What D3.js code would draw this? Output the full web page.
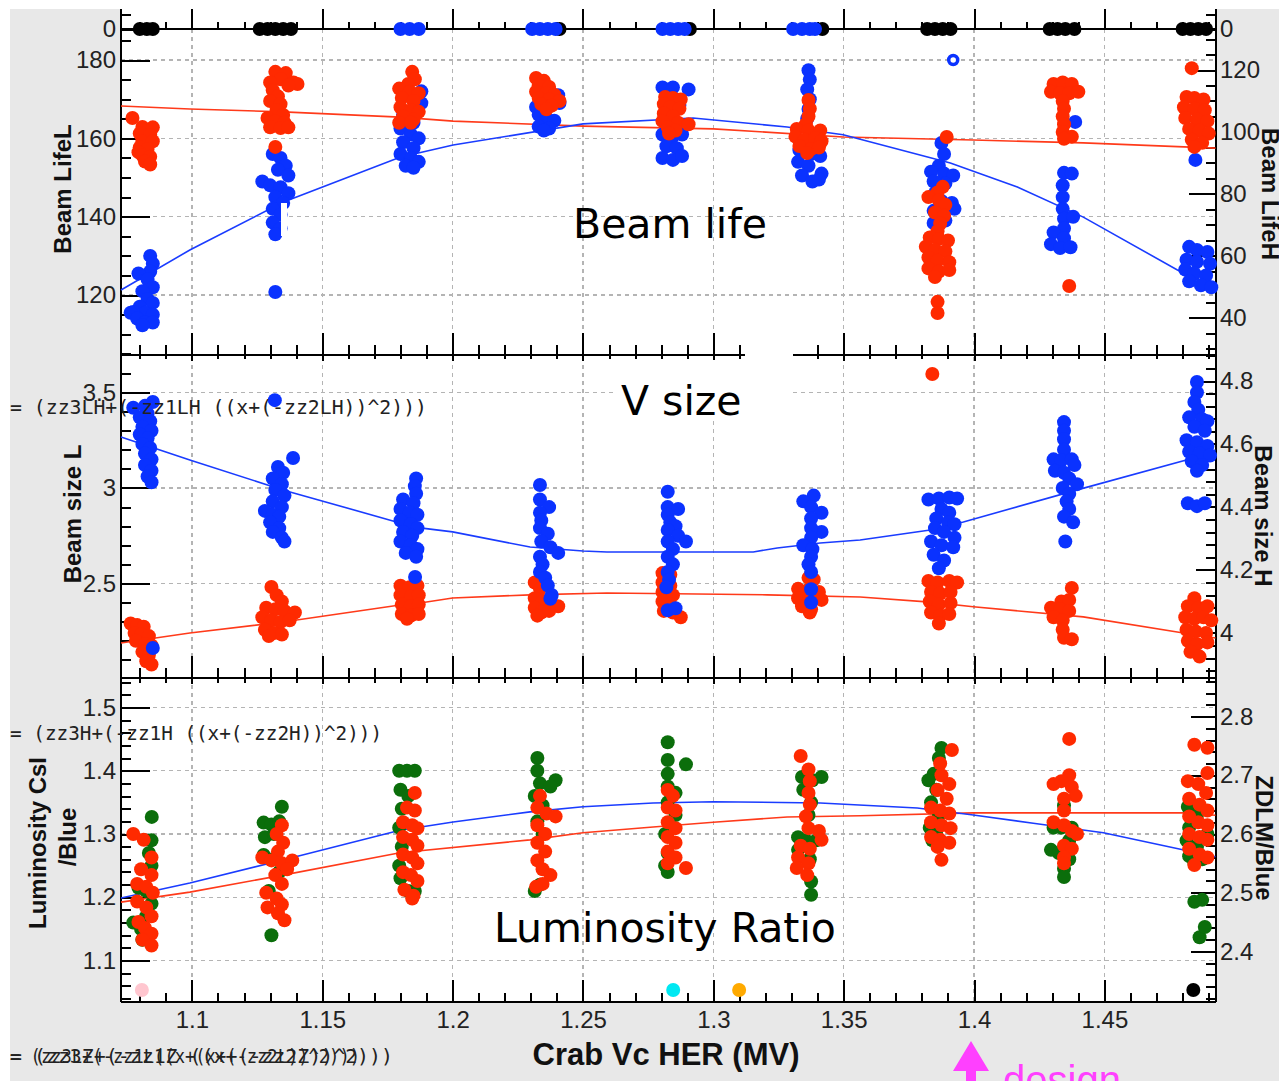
<!DOCTYPE html>
<html>
<head>
<meta charset="utf-8">
<title>Crab Vc HER scan</title>
<script src="https://d3js.org/d3.v7.min.js"></script>
<style>
  body { margin: 0; background: #fff; }
  text { font-family: "Liberation Sans", Arial, sans-serif; }
  .tick text { font-size: 24px; fill: #222; font-family: "Liberation Sans", Arial, sans-serif; }
  .tick line { stroke: #000; stroke-width: 2px; shape-rendering: crispEdges; }
  .grid { stroke: #b4b4b4; stroke-width: 1.5px; stroke-dasharray: 4,4; shape-rendering: crispEdges; }
  .frame { stroke: #000; stroke-width: 2px; shape-rendering: crispEdges; }
  .title { font-weight: bold; font-size: 24px; fill: #111; }
  .formula { font-family: "DejaVu Sans Mono", monospace; font-size: 19px; fill: #222; }
  .note { font-family: "DejaVu Sans", sans-serif; font-size: 41px; fill: #000; }
</style>
</head>
<body>
<div id="chart"></div>
<script>
// ---- values ----
var xTicks = [1.1, 1.15, 1.2, 1.25, 1.3, 1.35, 1.4, 1.45];
var lifeLTicks = [120, 140, 160, 180];
var lifeHTicks = [40, 60, 80, 100, 120];
var sizeLTicks = [2.5, 3, 3.5];
var sizeHTicks = [4, 4.2, 4.4, 4.6, 4.8];
var lumLTicks = [1.1, 1.2, 1.3, 1.4, 1.5];
var lumRTicks = [2.4, 2.5, 2.6, 2.7, 2.8];

// status row (all at 0)
var statusBlack = [1.080, 1.0827, 1.085, 1.126, 1.129, 1.132, 1.135, 1.138, 1.241, 1.291, 1.3418,
  1.382, 1.385, 1.388, 1.391, 1.429, 1.432, 1.435, 1.4385, 1.480, 1.483, 1.486, 1.489];
var statusBlue = [1.180, 1.1835, 1.187, 1.2305, 1.2335, 1.2365, 1.2395, 1.2805, 1.2835, 1.2865, 1.289,
  1.3306, 1.334, 1.337, 1.339];

// Beam LifeL (blue, left axis)
var lifeL = [
  [1.084,130],[1.085,128],[1.084,126],[1.0795,125.5],[1.083,124],[1.085,122],[1.081,121],[1.083,119],[1.085,118],[1.080,117],[1.082,115.5],[1.085,115],[1.0775,115.7],[1.0765,115.5],[1.079,114],[1.082,113],[1.085,113],[1.081,112.3],
  [1.131,156],[1.134,155],[1.136,153],[1.133,152],[1.137,150.5],[1.127,149],[1.130,148],[1.134,147.5],[1.137,146],[1.132,145],[1.135,143.5],[1.131,142],[1.134,140.5],[1.131,138.5],[1.134,137],[1.132,135.5],[1.132,120.8],
  [1.188,172],[1.188,169],[1.181,166],[1.185,164],[1.180,162.5],[1.184,161],[1.187,160],[1.181,159],[1.185,157.5],[1.180,156],[1.184,155],[1.187,154],[1.182,153],[1.185,152.5],
  [1.2405,171],[1.241,169],[1.232,168],[1.233,166],[1.236,165],[1.239,164.5],[1.233,163],[1.237,162.5],[1.235,162],
  [1.2805,173],[1.2845,173],[1.2905,172.5],[1.282,170],[1.287,168.5],[1.2805,161],[1.2845,160.5],[1.288,161],[1.282,158],[1.286,157.5],[1.2805,155],[1.2845,154.5],[1.288,155.5],
  [1.3365,177.4],[1.337,175],[1.336,172.5],[1.337,170],[1.3365,167.5],[1.336,165],[1.333,157],[1.3375,156],[1.341,155.5],[1.3325,154],[1.3365,153],[1.3415,151],[1.334,150.5],[1.338,149],[1.3405,149.5],
  [1.3875,158.8],[1.3885,156],[1.3865,153],[1.3835,151.5],[1.3885,151],[1.392,150.5],[1.3845,149],[1.389,148.5],[1.385,146],[1.3875,144],[1.3915,143.5],[1.3925,142],[1.3845,141.5],[1.388,140],[1.3845,138.4],[1.389,139],
  [1.4345,151.2],[1.4375,151],[1.434,148],[1.434,145],[1.434,142],[1.4345,139.5],[1.438,140],[1.4345,137],[1.4305,136],[1.4345,134.5],[1.4295,133],[1.433,132],[1.437,132.2],[1.4388,164.2],
  [1.4825,132.3],[1.4855,131.5],[1.4895,131],[1.4815,129],[1.4855,128.5],[1.4905,128],[1.481,126.5],[1.4845,125.5],[1.489,125],[1.4825,123.5],[1.487,122.5],[1.491,122],[1.4849,154.5]
];
var lifeLRing = [[1.392, 180]];

// Beam LifeH (red, right axis)
var lifeH = [
  [1.0772,104.5],[1.081,101.6],[1.085,101.5],[1.080,99.5],[1.084,99],[1.081,97],[1.085,97],[1.080,95],[1.083,94.5],[1.0795,93.5],[1.081,92.5],[1.084,92],[1.082,90.5],[1.084,89.5],
  [1.132,119.4],[1.136,119],[1.134,117],[1.130,116],[1.139,116],[1.1405,115.5],[1.137,115],[1.131,113.5],[1.133,111.5],[1.130,110],[1.134,109],[1.1325,107],[1.135,105.5],[1.129,104.5],[1.132,103.5],[1.1355,103],[1.130,101.5],[1.134,101.3],[1.137,101.5],[1.132,95.2],
  [1.1845,119.4],[1.1855,117],[1.183,115.5],[1.1795,114],[1.1835,113],[1.187,112.5],[1.1805,111],[1.185,110],[1.180,108],[1.184,107],[1.187,106.5],[1.181,105],[1.185,104],[1.1795,103],[1.184,103],
  [1.232,117.4],[1.235,116.5],[1.233,115],[1.237,114.5],[1.232,113],[1.236,112.5],[1.239,112],[1.233,111],[1.237,110.5],[1.241,110],[1.234,109],[1.238,108.5],[1.236,107.3],
  [1.2815,111.3],[1.2845,111],[1.2875,110.5],[1.281,109],[1.2835,108],[1.287,107.5],[1.281,106],[1.2845,105],[1.2805,103.5],[1.2865,103],[1.2905,102.5],[1.2825,101.5],[1.2855,100.5],[1.283,99.5],
  [1.3365,110.3],[1.337,107.5],[1.3365,105],[1.3355,102.5],[1.332,101],[1.3365,100.5],[1.341,100.5],[1.3315,98.5],[1.335,97.5],[1.339,98],[1.3415,97],[1.333,95.5],[1.3375,94.5],[1.3405,95],[1.336,93.2],
  [1.3895,98.4],[1.388,82.3],[1.386,80.5],[1.3825,79],[1.3865,78],[1.389,76.5],[1.385,74],[1.3885,73],[1.387,70.5],[1.386,68],[1.383,66],[1.3865,65.5],[1.390,65],[1.3815,63],[1.385,62],[1.389,61.5],[1.3825,59.5],[1.386,58.5],[1.3905,58],[1.3825,56],[1.3865,55],[1.3905,55.5],[1.385,53.2],[1.386,45.2],[1.386,41.6],
  [1.4305,115.5],[1.434,116],[1.4375,115.5],[1.4295,113],[1.433,112.5],[1.4365,112.5],[1.44,113],[1.434,110],[1.4345,107.5],[1.434,105],[1.4345,102.5],[1.434,100],[1.4375,98.5],[1.4345,97.8],[1.4365,50.3],
  [1.4835,120.6],[1.4815,111.3],[1.4845,111],[1.488,110.5],[1.4805,108],[1.4845,107.5],[1.4885,107],[1.481,104.5],[1.4855,104],[1.4895,103.5],[1.4825,101],[1.4865,100.5],[1.49,99.5],[1.4835,97.5],[1.4875,96.5],[1.4845,95.2]
];

// Beam size L (blue, left axis)
var sizeL = [
  [1.0775,3.42],[1.085,3.45],[1.082,3.43],[1.083,3.39],[1.080,3.37],[1.084,3.35],[1.081,3.32],[1.0845,3.30],[1.080,3.28],[1.083,3.26],[1.081,3.23],[1.084,3.21],[1.082,3.18],[1.0845,3.15],[1.082,3.12],[1.0845,3.09],[1.083,3.06],[1.0845,3.03],[1.085,2.162],
  [1.1318,3.46],[1.1388,3.157],[1.133,3.11],[1.135,3.08],[1.131,3.05],[1.1345,3.02],[1.132,2.99],[1.1355,2.96],[1.131,2.93],[1.1345,2.90],[1.128,2.88],[1.131,2.86],[1.1335,2.85],[1.130,2.82],[1.1335,2.79],[1.131,2.77],[1.1345,2.74],[1.1355,2.72],
  [1.186,3.05],[1.1855,3.01],[1.186,2.97],[1.181,2.94],[1.185,2.92],[1.180,2.89],[1.1835,2.87],[1.1865,2.86],[1.180,2.83],[1.184,2.81],[1.1865,2.79],[1.181,2.77],[1.1845,2.75],[1.180,2.72],[1.184,2.70],[1.1865,2.68],[1.182,2.66],[1.186,2.64],[1.1856,2.534],
  [1.2335,3.016],[1.2335,2.94],[1.237,2.90],[1.2335,2.87],[1.234,2.83],[1.2335,2.79],[1.2365,2.76],[1.234,2.72],[1.2375,2.69],[1.2405,2.66],[1.2335,2.64],[1.2345,2.60],[1.2335,2.56],[1.2355,2.53],[1.2365,2.49],[1.238,2.44],[1.2375,2.42],
  [1.2825,2.98],[1.2825,2.90],[1.2865,2.89],[1.2825,2.86],[1.2835,2.82],[1.2855,2.80],[1.2825,2.78],[1.2865,2.75],[1.2895,2.72],[1.2825,2.72],[1.2845,2.68],[1.2825,2.64],[1.2845,2.60],[1.2825,2.56],[1.283,2.52],[1.282,2.48],[1.2825,2.36],[1.2855,2.37],
  [1.3385,2.96],[1.3345,2.93],[1.3375,2.90],[1.3415,2.87],[1.3375,2.84],[1.3415,2.77],[1.3375,2.79],[1.3375,2.74],[1.3345,2.70],[1.338,2.68],[1.3375,2.64],[1.3365,2.60],[1.3375,2.56],[1.3375,2.47],[1.3375,2.40],
  [1.3825,2.94],[1.3865,2.945],[1.3905,2.95],[1.3935,2.945],[1.3875,2.89],[1.3905,2.87],[1.3855,2.84],[1.390,2.82],[1.3925,2.81],[1.385,2.79],[1.3885,2.77],[1.3925,2.74],[1.3835,2.72],[1.3875,2.70],[1.392,2.69],[1.3845,2.65],[1.3885,2.62],[1.3865,2.58],
  [1.4345,3.345],[1.4345,3.30],[1.4345,3.255],[1.4345,3.20],[1.4305,3.15],[1.4335,3.145],[1.4375,3.15],[1.4385,3.12],[1.431,3.09],[1.4345,3.08],[1.4365,3.05],[1.4395,3.02],[1.434,3.00],[1.4365,2.97],[1.4355,2.93],[1.4365,2.89],[1.4345,2.85],[1.438,2.82],[1.435,2.72],
  [1.4855,3.555],[1.4855,3.50],[1.4845,3.45],[1.486,3.41],[1.4825,3.37],[1.4875,3.36],[1.4895,3.35],[1.4845,3.32],[1.4885,3.30],[1.4815,3.25],[1.4855,3.24],[1.4895,3.22],[1.4825,3.19],[1.4865,3.18],[1.4905,3.17],[1.4835,3.14],[1.4875,3.12],[1.4855,3.09],[1.482,2.92],[1.4855,2.905],[1.4885,2.92]
];

// Beam size H (red, right axis)
var sizeH = [
  [1.0765,4.03],[1.079,4.025],[1.0815,4.02],[1.078,4.00],[1.0805,3.995],[1.0835,3.99],[1.0785,3.975],[1.082,3.965],[1.0845,3.96],[1.081,3.94],[1.0835,3.93],[1.0825,3.91],[1.0845,3.90],
  [1.1305,4.146],[1.1325,4.12],[1.1345,4.10],[1.1285,4.08],[1.132,4.075],[1.1355,4.07],[1.1395,4.065],[1.127,4.05],[1.1305,4.04],[1.134,4.035],[1.1375,4.04],[1.128,4.01],[1.1315,4.00],[1.1345,3.995],[1.1295,3.99],
  [1.180,4.15],[1.1835,4.145],[1.1865,4.15],[1.180,4.12],[1.184,4.115],[1.187,4.12],[1.1805,4.09],[1.184,4.085],[1.187,4.09],[1.1805,4.06],[1.184,4.055],[1.187,4.06],[1.1825,4.045],
  [1.2315,4.16],[1.2335,4.14],[1.2315,4.11],[1.2345,4.10],[1.2375,4.09],[1.2405,4.085],[1.2315,4.08],[1.234,4.065],[1.237,4.07],[1.2325,4.055],
  [1.2805,4.19],[1.2835,4.185],[1.2805,4.16],[1.2835,4.15],[1.2805,4.13],[1.2845,4.12],[1.2805,4.10],[1.2835,4.09],[1.281,4.07],[1.2845,4.065],[1.2875,4.05],
  [1.3365,4.175],[1.3385,4.17],[1.3325,4.14],[1.336,4.135],[1.3405,4.13],[1.3325,4.11],[1.3365,4.10],[1.3415,4.105],[1.334,4.085],[1.3375,4.075],[1.337,4.065],
  [1.384,4.822],[1.3825,4.165],[1.386,4.16],[1.3905,4.165],[1.3935,4.16],[1.3835,4.13],[1.387,4.125],[1.391,4.13],[1.383,4.10],[1.3865,4.09],[1.391,4.095],[1.3835,4.065],[1.387,4.055],[1.3905,4.06],[1.3865,4.03],
  [1.4375,4.143],[1.4335,4.10],[1.4365,4.105],[1.4295,4.08],[1.433,4.075],[1.4365,4.07],[1.4305,4.05],[1.434,4.04],[1.434,4.01],[1.4345,3.985],[1.4375,3.98],
  [1.4845,4.11],[1.482,4.085],[1.486,4.08],[1.4895,4.085],[1.481,4.05],[1.4845,4.045],[1.488,4.05],[1.491,4.04],[1.4815,4.01],[1.485,4.005],[1.489,4.00],[1.482,3.975],[1.4855,3.965],[1.4895,3.97],[1.483,3.94],[1.4865,3.925]
];

// Luminosity CsI/Blue (green, left axis)
var lumCsI = [
  [1.0846,1.327],[1.0845,1.29],[1.0835,1.27],[1.0845,1.25],[1.0795,1.215],[1.0825,1.21],[1.0845,1.19],[1.0825,1.17],[1.0775,1.16],[1.0805,1.15],[1.0835,1.14],[1.081,1.133],
  [1.1345,1.343],[1.1275,1.318],[1.1305,1.315],[1.1335,1.32],[1.128,1.295],[1.1315,1.30],[1.1275,1.267],[1.131,1.26],[1.1335,1.24],[1.1295,1.21],[1.1305,1.14],
  [1.1795,1.40],[1.1825,1.40],[1.1855,1.40],[1.180,1.37],[1.183,1.36],[1.1805,1.34],[1.1795,1.31],[1.1805,1.28],[1.1795,1.25],[1.180,1.23],[1.183,1.21],[1.1855,1.21],
  [1.2325,1.42],[1.2325,1.40],[1.2335,1.38],[1.2395,1.385],[1.2375,1.375],[1.2315,1.36],[1.2345,1.345],[1.2325,1.32],[1.2345,1.30],[1.2315,1.21],[1.2335,1.22],
  [1.2825,1.445],[1.2825,1.417],[1.2895,1.41],[1.2825,1.395],[1.2825,1.375],[1.2855,1.365],[1.2825,1.35],[1.2855,1.33],[1.2815,1.30],[1.2825,1.27],[1.2815,1.25],[1.2825,1.24],
  [1.334,1.39],[1.338,1.385],[1.3415,1.39],[1.3345,1.37],[1.3375,1.35],[1.3365,1.33],[1.3325,1.295],[1.3355,1.29],[1.3395,1.29],[1.3325,1.275],[1.337,1.26],[1.3375,1.225],[1.3375,1.204],
  [1.3875,1.436],[1.3865,1.42],[1.3845,1.395],[1.3825,1.385],[1.3855,1.37],[1.3835,1.35],[1.3865,1.33],[1.383,1.31],[1.3855,1.30],[1.384,1.29],
  [1.4345,1.345],[1.4305,1.31],[1.4335,1.31],[1.4375,1.31],[1.4365,1.29],[1.4295,1.275],[1.4325,1.27],[1.4365,1.26],[1.4345,1.245],[1.4345,1.232],
  [1.482,1.343],[1.4855,1.33],[1.4825,1.31],[1.4895,1.30],[1.4815,1.29],[1.4855,1.28],[1.4825,1.265],[1.4875,1.26],[1.4845,1.254],[1.4875,1.196],[1.4845,1.193],[1.4865,1.137],[1.4885,1.153]
];

// ZDLM/Blue (red, right axis)
var lumZDLM = [
  [1.0775,2.60],[1.0815,2.59],[1.0845,2.56],[1.0805,2.54],[1.0845,2.53],[1.079,2.515],[1.0825,2.51],[1.085,2.50],[1.079,2.485],[1.0825,2.475],[1.0845,2.46],[1.0795,2.45],[1.082,2.44],[1.0845,2.43],[1.081,2.42],[1.0845,2.41],
  [1.1345,2.615],[1.1325,2.60],[1.135,2.585],[1.133,2.57],[1.127,2.56],[1.1305,2.555],[1.1345,2.55],[1.1385,2.555],[1.1365,2.54],[1.132,2.53],[1.1345,2.515],[1.1285,2.50],[1.1325,2.49],[1.1345,2.48],[1.129,2.475],[1.133,2.465],[1.1355,2.453],
  [1.1855,2.67],[1.1825,2.645],[1.1855,2.64],[1.181,2.62],[1.1845,2.615],[1.1865,2.61],[1.181,2.595],[1.1845,2.59],[1.1865,2.58],[1.181,2.565],[1.1845,2.56],[1.1865,2.55],[1.181,2.535],[1.184,2.53],[1.1865,2.52],[1.1815,2.505],[1.185,2.495],[1.1845,2.49],
  [1.2335,2.665],[1.2325,2.645],[1.236,2.635],[1.2395,2.63],[1.2325,2.615],[1.2355,2.60],[1.2325,2.585],[1.2355,2.57],[1.2325,2.555],[1.2345,2.54],[1.2375,2.53],[1.2345,2.515],[1.232,2.51],
  [1.2825,2.675],[1.2845,2.665],[1.2825,2.645],[1.2855,2.64],[1.2825,2.62],[1.2855,2.61],[1.2825,2.595],[1.2855,2.585],[1.2825,2.57],[1.2855,2.56],[1.2825,2.55],[1.2895,2.542],
  [1.3335,2.733],[1.3365,2.71],[1.337,2.69],[1.3365,2.67],[1.337,2.65],[1.3355,2.63],[1.3365,2.61],[1.3405,2.605],[1.3415,2.59],[1.3335,2.58],[1.337,2.575],[1.3325,2.56],[1.3365,2.55],[1.332,2.542],[1.336,2.53],
  [1.3915,2.743],[1.387,2.72],[1.3875,2.70],[1.3905,2.685],[1.386,2.675],[1.3895,2.66],[1.3835,2.645],[1.387,2.64],[1.3905,2.635],[1.3835,2.62],[1.3875,2.615],[1.391,2.61],[1.3835,2.595],[1.387,2.59],[1.3905,2.585],[1.386,2.578],[1.3875,2.556],
  [1.4365,2.762],[1.4365,2.70],[1.4305,2.685],[1.4335,2.69],[1.4375,2.68],[1.439,2.665],[1.4345,2.66],[1.4345,2.64],[1.4305,2.62],[1.4345,2.615],[1.4375,2.605],[1.4395,2.60],[1.4345,2.58],[1.4375,2.575],[1.4345,2.56],[1.4345,2.55],
  [1.4845,2.752],[1.4895,2.747],[1.4895,2.704],[1.482,2.69],[1.486,2.685],[1.489,2.67],[1.4825,2.66],[1.4865,2.65],[1.4895,2.64],[1.4825,2.63],[1.486,2.62],[1.4895,2.615],[1.4825,2.60],[1.4865,2.595],[1.4895,2.59],[1.4825,2.575],[1.4865,2.565],[1.4895,2.56],[1.4845,2.547]
];

// single markers at the bottom of the luminosity panel
var markerX = [1.0808, 1.2846, 1.3099, 1.4841];
var markerY = [1.0536, 1.0536, 1.0536, 1.0536];

// fitted curves
var fitLifeL = [[1.0728,121.3],[1.0992,131.5],[1.1349,143.7],[1.1798,155.2],[1.2002,158.3],[1.25,163.7],[1.2922,165.2],[1.3283,162.9],[1.3498,160.9],[1.3909,153.7],[1.4166,147.6],[1.4419,139.9],[1.478,126.4],[1.4926,122.0]];
var fitLifeH = [[1.0728,108.4],[1.0992,107.4],[1.1349,106.5],[1.1798,104.8],[1.2002,103.5],[1.25,101.9],[1.3,101.0],[1.3498,98.4],[1.3997,97.4],[1.4419,96.5],[1.4926,94.8]];
var fitSizeL = [[1.0728,3.267],[1.0992,3.147],[1.1349,2.990],[1.1798,2.817],[1.1875,2.791],[1.2,2.770],[1.2297,2.691],[1.25,2.670],[1.2592,2.665],[1.3153,2.665],[1.3245,2.686],[1.341,2.712],[1.3563,2.728],[1.3832,2.78],[1.3959,2.822],[1.4396,2.99],[1.4856,3.162],[1.4926,3.199]];
var fitSizeH = [[1.0728,3.968],[1.0992,4.0],[1.1349,4.035],[1.1798,4.089],[1.1875,4.095],[1.2,4.111],[1.2297,4.121],[1.2592,4.127],[1.3207,4.121],[1.3563,4.114],[1.3832,4.098],[1.3997,4.083],[1.4419,4.051],[1.4803,4.0],[1.4926,3.984]];
var fitLumL = [[1.0728,1.199],[1.0992,1.2226],[1.1349,1.259],[1.1798,1.306],[1.2002,1.319],[1.2297,1.335],[1.25,1.343],[1.2769,1.349],[1.3,1.351],[1.341,1.349],[1.3782,1.341],[1.3997,1.330],[1.4227,1.317],[1.4496,1.302],[1.4926,1.264]];
var fitLumR = [[1.0728,2.484],[1.0992,2.501],[1.1349,2.530],[1.1798,2.568],[1.2297,2.590],[1.25,2.602],[1.2769,2.612],[1.3,2.620],[1.3283,2.629],[1.3563,2.631],[1.3997,2.636],[1.4419,2.636],[1.4803,2.636],[1.4926,2.632]];

// ---- layout ----
var W = 1279, H = 1081;
var X0 = 121, X1 = 1216;
var TOP = 9, STATUS_Y = 29, P1 = 355, P2 = 678, P3 = 1002;
var R = 7;
var RED = "#ff2a00", BLUE = "#0a32ff", GREEN = "#0b6e0b";
var markerColors = ["#ffc6cf", "#00e8f2", "#ffaa00", "#000000"];

var svg = d3.select("#chart").append("svg")
  .attr("width", W).attr("height", H);

// background
svg.append("rect").attr("x", 10).attr("y", TOP).attr("width", W - 10).attr("height", H - TOP).attr("fill", "#e8e8e8");
svg.append("rect").attr("x", X0).attr("y", TOP).attr("width", X1 - X0).attr("height", P3 - TOP).attr("fill", "#fff");

// scales
var x = d3.scaleLinear().domain([1.0728, 1.4928]).range([X0, X1]);
var yStatus = d3.scaleLinear().domain([-1, 1]).range([44, 14]);
var yLifeL = d3.scaleLinear().domain([104.7, 180]).range([P1, 60]);
var yLifeH = d3.scaleLinear().domain([28.06, 120]).range([P1, 70]);
var ySizeL = d3.scaleLinear().domain([2.005, 3.5]).range([P2, 392.5]);
var ySizeH = d3.scaleLinear().domain([3.857, 4.8]).range([P2, 381]);
var yLumL = d3.scaleLinear().domain([1.0346, 1.5]).range([P3, 707.4]);
var yLumR = d3.scaleLinear().domain([2.3138, 2.8]).range([P3, 716.6]);

// grid
var grid = svg.append("g");
xTicks.forEach(function(t) {
  grid.append("line").attr("class", "grid")
    .attr("x1", x(t)).attr("x2", x(t)).attr("y1", STATUS_Y).attr("y2", P3);
});
[[yLifeL, lifeLTicks], [ySizeL, sizeLTicks], [yLumL, lumLTicks]].forEach(function(p) {
  p[1].forEach(function(t) {
    grid.append("line").attr("class", "grid")
      .attr("x1", X0).attr("x2", X1).attr("y1", p[0](t)).attr("y2", p[0](t));
  });
});

function noDomain(g) { g.select(".domain").remove(); }
function fmt(d) { return String(d); }

// vertical axes
function leftAxis(scale, majors, minors, len) {
  svg.append("g").attr("transform", "translate(" + X0 + ",0)")
    .call(d3.axisLeft(scale).tickValues(minors).tickSizeInner(-10).tickSizeOuter(0).tickFormat(""))
    .call(noDomain);
  svg.append("g").attr("transform", "translate(" + X0 + ",0)")
    .call(d3.axisLeft(scale).tickValues(majors).tickSizeInner(-len).tickSizeOuter(0).tickPadding(5).tickFormat(fmt))
    .call(noDomain);
}
function rightAxis(scale, majors, minors, len) {
  svg.append("g").attr("transform", "translate(" + X1 + ",0)")
    .call(d3.axisRight(scale).tickValues(minors).tickSizeInner(-10).tickSizeOuter(0).tickFormat(""))
    .call(noDomain);
  svg.append("g").attr("transform", "translate(" + X1 + ",0)")
    .call(d3.axisRight(scale).tickValues(majors).tickSizeInner(-len).tickSizeOuter(0).tickPadding(4).tickFormat(fmt))
    .call(noDomain);
}
leftAxis(yStatus, [0], [1], 29);
rightAxis(yStatus, [0], [1], 27);
leftAxis(yLifeL, lifeLTicks, d3.range(105, 186, 5), 29);
rightAxis(yLifeH, lifeHTicks, d3.range(30, 131, 5), 27);
leftAxis(ySizeL, sizeLTicks, d3.range(2.1, 3.65, 0.1), 29);
rightAxis(ySizeH, sizeHTicks, d3.range(3.88, 4.89, 0.04), 20);
leftAxis(yLumL, lumLTicks, d3.range(1.04, 1.545, 0.02), 29);
rightAxis(yLumR, lumRTicks, d3.range(2.32, 2.865, 0.02), 25);

// horizontal axes
var xMinor = d3.range(1.08, 1.4905, 0.01);
function xAxisAt(y, up, majLen, minLen, labels) {
  var mk = up ? d3.axisBottom : d3.axisTop;
  svg.append("g").attr("transform", "translate(0," + y + ")")
    .call(mk(x).tickValues(xMinor).tickSizeInner(-minLen).tickSizeOuter(0).tickFormat(""))
    .call(noDomain);
  svg.append("g").attr("transform", "translate(0," + y + ")")
    .call(mk(x).tickValues(xTicks).tickSizeInner(-majLen).tickSizeOuter(0).tickPadding(9)
      .tickFormat(labels ? fmt : ""))
    .call(noDomain);
}
xAxisAt(STATUS_Y, true, 20, 7, false);
xAxisAt(P1, true, 22, 10, false);
xAxisAt(P1, false, 6, 4, false);
xAxisAt(P2, true, 22, 10, false);
xAxisAt(P2, false, 6, 5, false);
xAxisAt(P3, true, 22, 9, true);

// frame lines
[STATUS_Y, P1, P2, P3].forEach(function(y) {
  svg.append("line").attr("class", "frame").attr("x1", X0).attr("x2", X1).attr("y1", y).attr("y2", y);
});
[X0, X1].forEach(function(xx) {
  svg.append("line").attr("class", "frame").attr("x1", xx).attr("x2", xx).attr("y1", TOP).attr("y2", P3);
});

// fitted curves
function fit(data, ys, color) {
  svg.append("path").datum(data)
    .attr("fill", "none").attr("stroke", color).attr("stroke-width", 1.6)
    .attr("d", d3.line().x(function(d) { return x(d[0]); }).y(function(d) { return ys(d[1]); }));
}
fit(fitLifeH, yLifeH, "#ff3a1a");
fit(fitLifeL, yLifeL, "#1a3cff");
fit(fitSizeH, ySizeH, "#ff3a1a");
fit(fitSizeL, ySizeL, "#1a3cff");
fit(fitLumR, yLumR, "#ff3a1a");
fit(fitLumL, yLumL, "#1a3cff");

// points
function dots(data, ys, color) {
  svg.append("g").selectAll("circle").data(data).join("circle")
    .attr("cx", function(d) { return x(d[0]); })
    .attr("cy", function(d) { return ys(d[1]); })
    .attr("r", R).attr("fill", color);
}
dots(statusBlack.map(function(v) { return [v, 0]; }), yStatus, "#000");
dots(statusBlue.map(function(v) { return [v, 0]; }), yStatus, BLUE);
dots(lifeL, yLifeL, BLUE);
dots(lifeH, yLifeH, RED);
svg.append("g").selectAll("circle").data(lifeLRing).join("circle")
  .attr("cx", function(d) { return x(d[0]); }).attr("cy", function(d) { return yLifeL(d[1]); })
  .attr("r", 4.5).attr("fill", "#fff").attr("stroke", BLUE).attr("stroke-width", 3.5);
dots(sizeH, ySizeH, RED);
dots(sizeL, ySizeL, BLUE);
dots(lumCsI, yLumL, GREEN);
dots(lumZDLM, yLumR, RED);
svg.append("g").selectAll("circle").data(markerX).join("circle")
  .attr("cx", function(d) { return x(d); })
  .attr("cy", function(d, i) { return yLumL(markerY[i]); })
  .attr("r", R).attr("fill", function(d, i) { return markerColors[i]; });

// white patches pasted over the plot
svg.append("rect").attr("x", 281).attr("y", 203).attr("width", 6).attr("height", 33).attr("fill", "#fff");
svg.append("rect").attr("x", 745).attr("y", 337).attr("width", 48).attr("height", 62).attr("fill", "#fff");
svg.append("rect").attr("x", 617).attr("y", 360).attr("width", 128).attr("height", 58).attr("fill", "#fff");

// axis titles
function vtitle(txt, tx, ty, rot) {
  svg.append("text").attr("class", "title")
    .attr("transform", "translate(" + tx + "," + ty + ") rotate(" + rot + ")")
    .attr("text-anchor", "middle").text(txt);
}
vtitle("Beam LifeL", 71, 189, -90);
vtitle("Beam size L", 81, 514, -90);
vtitle("Luminosity CsI", 46, 843, -90);
vtitle("/Blue", 76, 837, -90);
vtitle("Beam LifeH", 1262, 194, 90);
vtitle("Beam size H", 1255, 516, 90);
vtitle("ZDLM/Blue", 1256, 838, 90);

svg.append("text").attr("x", 666).attr("y", 1065).attr("text-anchor", "middle")
  .attr("font-weight", "bold").attr("font-size", 31).attr("fill", "#111")
  .text("Crab Vc HER (MV)");

// fit formulas printed over the plot
svg.append("text").attr("class", "formula").attr("x", 10).attr("y", 414)
  .attr("textLength", 417).attr("lengthAdjust", "spacingAndGlyphs")
  .text("= (zz3LH+(-zz1LH ((x+(-zz2LH))^2)))");
svg.append("text").attr("class", "formula").attr("x", 10).attr("y", 740)
  .attr("textLength", 372).attr("lengthAdjust", "spacingAndGlyphs")
  .text("= (zz3H+(-zz1H ((x+(-zz2H))^2)))");
svg.append("text").attr("class", "formula").attr("x", 10).attr("y", 1063)
  .attr("textLength", 383).attr("lengthAdjust", "spacingAndGlyphs")
  .text("= (zz3Z+(-zz1Z ((x+(-zz2Z))^2)))");
svg.append("text").attr("class", "formula").attr("x", 10).attr("y", 1063)
  .attr("textLength", 350).attr("lengthAdjust", "spacingAndGlyphs")
  .text("= (zz3L+(-zz1L((x+(x+(-zz2L))^2)))");

// annotations
svg.append("text").attr("class", "note").attr("x", 573).attr("y", 238).text("Beam life");
svg.append("text").attr("class", "note").attr("x", 621).attr("y", 415).text("V size");
svg.append("text").attr("class", "note").attr("x", 494).attr("y", 942).text("Luminosity Ratio");

// design arrow
svg.append("path").attr("fill", "#ff40ff")
  .attr("d", d3.line()([[971, 1041], [989, 1071], [976, 1071], [976, 1081], [966, 1081], [966, 1071], [953, 1071]]) + "Z");
svg.append("text").attr("x", 1003).attr("y", 1094).attr("fill", "#ff40ff")
  .attr("font-family", "DejaVu Sans, sans-serif").attr("font-size", 40).text("design");
</script>
</body>
</html>
